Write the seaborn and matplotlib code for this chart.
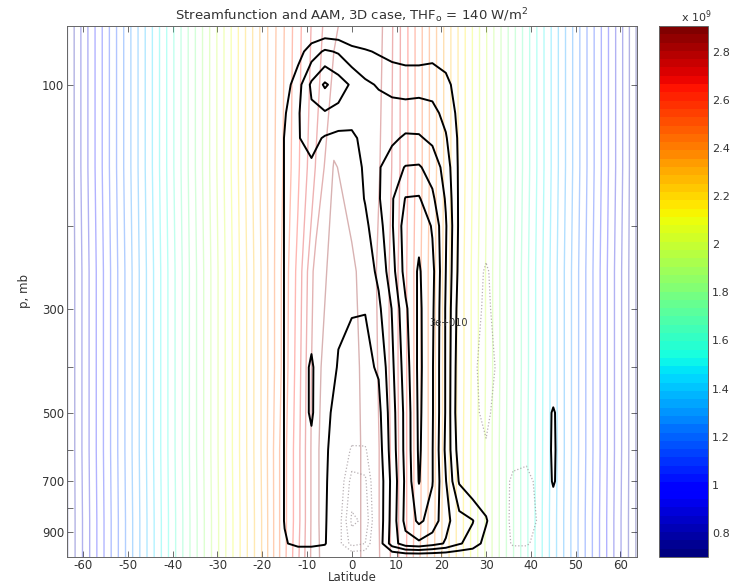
import numpy as np
import matplotlib
matplotlib.use("Agg")
import matplotlib.pyplot as plt
import seaborn as sns
from matplotlib.colors import Normalize, ListedColormap
from matplotlib.cm import ScalarMappable

sns.set_style("ticks")
plt.rcParams['font.family'] = ['DejaVu Sans']

# ---- absolute angular momentum (units of 1e9 m^2/s) ----
aam_lat = [-64, -60, -56, -52, -48, -44, -40, -36, -32, -28, -24, -20, -16,
           -12, -8, -4, 0, 4, 8, 12, 16, 20, 24, 28, 32, 36, 40, 44, 48, 52,
           56, 60, 64]
aam_p = [75, 150, 250, 400, 600, 850, 1015]
aam = [
    [0.70, 0.86, 1.01, 1.16, 1.31, 1.46, 1.61, 1.76, 1.91, 2.06, 2.21, 2.36, 2.49,
     2.62, 2.73, 2.81, 2.85, 2.87, 2.80, 2.66, 2.51, 2.36, 2.21, 2.06, 1.91, 1.76,
     1.61, 1.46, 1.31, 1.16, 1.01, 0.86, 0.70],
    [0.70, 0.86, 1.01, 1.16, 1.31, 1.46, 1.61, 1.76, 1.91, 2.06, 2.21, 2.36, 2.50,
     2.63, 2.765, 2.885, 2.86, 2.86, 2.79, 2.66, 2.51, 2.36, 2.21, 2.06, 1.91, 1.76,
     1.61, 1.46, 1.31, 1.16, 1.01, 0.86, 0.70],
    [0.70, 0.85, 1.00, 1.15, 1.30, 1.45, 1.60, 1.75, 1.90, 2.05, 2.20, 2.35, 2.51,
     2.66, 2.85, 2.90, 2.89, 2.85, 2.77, 2.65, 2.50, 2.35, 2.20, 2.05, 1.90, 1.75,
     1.60, 1.45, 1.30, 1.15, 1.00, 0.85, 0.70],
    [0.70, 0.85, 1.00, 1.15, 1.30, 1.45, 1.60, 1.75, 1.90, 2.05, 2.20, 2.35, 2.51,
     2.67, 2.87, 2.905, 2.895, 2.86, 2.77, 2.65, 2.50, 2.35, 2.20, 2.05, 1.90, 1.75,
     1.60, 1.45, 1.30, 1.15, 1.00, 0.85, 0.70],
    [0.70, 0.85, 1.00, 1.15, 1.30, 1.45, 1.60, 1.75, 1.90, 2.05, 2.20, 2.35, 2.525,
     2.68, 2.875, 2.905, 2.895, 2.865, 2.78, 2.65, 2.50, 2.35, 2.195, 2.045, 1.895,
     1.745, 1.595, 1.45, 1.30, 1.15, 1.00, 0.85, 0.70],
    [0.70, 0.845, 0.995, 1.145, 1.295, 1.445, 1.595, 1.745, 1.895, 2.045, 2.195,
     2.345, 2.525, 2.68, 2.875, 2.905, 2.895, 2.865, 2.78, 2.65, 2.50, 2.345, 2.195,
     2.045, 1.895, 1.745, 1.595, 1.445, 1.295, 1.145, 0.995, 0.845, 0.70],
    [0.70, 0.845, 0.995, 1.145, 1.295, 1.445, 1.595, 1.745, 1.895, 2.045, 2.195,
     2.345, 2.525, 2.69, 2.875, 2.90, 2.89, 2.87, 2.78, 2.65, 2.49, 2.345, 2.195,
     2.045, 1.895, 1.745, 1.595, 1.445, 1.295, 1.145, 0.995, 0.845, 0.70],
]
aam_levels = np.arange(0.72, 2.90, 0.06)
aam_range = (0.70, 2.906)

# ---- mass streamfunction (units of 1e10 kg/s) ----
psi_lat = [-18, -15, -12, -9, -6, -3, 0, 3, 6, 9, 12, 15, 18, 21, 24, 27, 30,
           33, 36, 39, 42, 45, 48]
psi_p = [75, 85, 100, 115, 130, 150, 175, 200, 250, 300, 400, 500, 600, 700,
         850, 950, 1015]
psi = [
    [0, 0, 0, 0, 0, 0, 0, 0, 0, 0, 0, 0, 0, 0, 0, 0, 0, 0, 0, 0, 0, 0, 0],
    [0, 0, 0.6, 1.5, 2.15, 1.9, 1.3, 1.1, 0.9, 0.7, 0.6, 0.6, 0.7, 0.5, 0, 0, 0, 0, 0, 0, 0, 0, 0],
    [0, 0.5, 1.6, 3.2, 4.15, 3.5, 2.85, 2.2, 1.9, 1.7, 1.6, 1.6, 1.6, 1.3, 0.5, 0, 0, 0, 0, 0, 0, 0, 0],
    [0, 0.9, 1.9, 2.8, 2.9, 2.7, 2.4, 2.4, 2.5, 2.4, 2.4, 2.5, 2.3, 1.7, 0.7, 0, 0, 0, 0, 0, 0, 0, 0],
    [0, 1.05, 1.95, 2.3, 1.9, 1.7, 1.8, 2.3, 2.5, 2.8, 3.15, 3.1, 2.8, 2.1, 0.8, 0, 0, 0, 0, 0, 0, 0, 0],
    [0, 1.05, 1.7, 1.85, 1.6, 1.5, 1.7, 2.1, 2.9, 3.6, 4.05, 4.1, 3.6, 2.6, 0.8, 0, 0, 0, 0, 0, 0, 0, 0],
    [0, 1.05, 1.6, 1.7, 1.5, 1.4, 1.5, 2.05, 2.9, 3.9, 5.05, 5.1, 4.2, 2.9, 0.8, 0, 0, 0, 0, 0, 0, 0, 0],
    [0, 1.05, 1.5, 1.6, 1.4, 1.3, 1.4, 1.8, 2.6, 3.9, 5.5, 5.8, 4.9, 3.1, 0.8, -0.1, -0.3, -0.1, 0, 0, 0, 0, 0],
    [0, 1.05, 1.5, 1.6, 1.3, 1.2, 1.2, 1.5, 2.2, 3.6, 5.4, 6.1, 5.3, 3.0, 0.7, -0.3, -0.55, -0.3, 0, 0, 0, 0, 0],
    [0, 1.05, 1.55, 1.7, 1.25, 1.1, 1.05, 1.02, 1.8, 3.05, 4.8, 6.2, 5.2, 2.9, 0.5, -0.3, -0.6, -0.3, 0, 0, 0, 0, 0],
    [0, 1.05, 1.6, 2.1, 1.4, 0.95, 0.7, 0.8, 1.1, 2.8, 4.5, 6.25, 5.1, 2.9, 0.3, -0.4, -0.7, -0.4, 0, 0, 0, 0, 0],
    [0, 1.05, 1.6, 2.1, 1.3, 0.6, 0.2, 0.3, 0.7, 2.6, 4.3, 6.2, 5.1, 2.9, 0.2, -0.4, -0.6, -0.3, 0, 0, 0, 1.15, 0],
    [0, 1.05, 1.55, 1.8, 1.25, 0.2, -0.6, -0.6, 0.5, 2.5, 4.3, 6.15, 5.05, 2.8, 0.5, 0, -0.45, -0.2, -0.3, -0.3, 0, 1.2, 0],
    [0, 1.05, 1.5, 1.6, 1.2, 0.0, -1.2, -1.1, 0.3, 2.3, 4.2, 6.05, 5.05, 3.05, 0.9, 0.2, 0.3, -0.2, -0.6, -0.7, -0.3, 1.15, 0],
    [0, 1.05, 1.5, 1.5, 1.15, -0.2, -1.6, -1.4, 0.3, 2.4, 4.3, 5.2, 4.6, 3.3, 2.4, 2.05, 1.1, 0, -0.7, -0.8, -0.4, 0, 0],
    [0, 0.9, 1.3, 1.3, 1.1, -0.3, -1.2, -1.0, 0.4, 2.5, 3.6, 3.8, 3.4, 2.9, 2.1, 1.6, 0.6, 0, -0.6, -0.6, -0.2, 0, 0],
    [0, 0, 0, 0, 0, 0, 0, 0, 0, 0, 0, 0, 0, 0, 0, 0, 0, 0, 0, 0, 0, 0, 0],
]
psi_pos_levels = [1, 2, 3, 4, 5, 6]
psi_neg_levels = [-1.5, -1.0, -0.5]

x_ticks = [-60, -50, -40, -30, -20, -10, 0, 10, 20, 30, 40, 50, 60]
p_ticks = [100, 200, 300, 400, 500, 600, 700, 800, 900]
p_labels = ["100", "", "300", "", "500", "", "700", "", "900"]
cbar_ticks = [0.8, 1.0, 1.2, 1.4, 1.6, 1.8, 2.0, 2.2, 2.4, 2.6, 2.8]
cbar_labels = ["0.8", "1", "1.2", "1.4", "1.6", "1.8", "2", "2.2", "2.4", "2.6", "2.8"]

jet64 = ListedColormap(plt.get_cmap("jet")(np.linspace(0, 1, 64)))
norm = Normalize(*aam_range)
txt = "#333333"

fig = plt.figure(figsize=(7.53, 5.85), dpi=100)
ax_box = [67 / 753, 1 - 557 / 585, 570 / 753, 531 / 585]
ax = fig.add_axes(ax_box)

# AAM contours, pale jet colours
ax.contour(aam_lat, aam_p, np.array(aam), levels=aam_levels, cmap=jet64,
           norm=norm, linewidths=1.0, alpha=0.3, linestyles="solid", zorder=1)

# streamfunction: positive solid black, negative dotted grey
ax.contour(psi_lat, psi_p, np.array(psi), levels=psi_pos_levels, colors="black",
           linewidths=1.4, linestyles="solid", zorder=3)
ax.contour(psi_lat, psi_p, np.array(psi), levels=psi_neg_levels, colors="#9a8f94",
           linewidths=0.9, linestyles=[(0, (1, 1.6))], alpha=0.7, zorder=2)

ax.text(21.6, 322, "3e+010", fontsize=7, ha="center", va="center", color=txt,
        zorder=4)

ax.set_yscale("log")
ax.set_ylim(1015, 75)
ax.set_xlim(-63.6, 63.7)
ax.set_yticks(p_ticks)
ax.set_yticklabels(p_labels)
ax.yaxis.set_minor_locator(matplotlib.ticker.NullLocator())
ax.set_xticks(x_ticks)
ax.set_xticklabels([str(v) for v in x_ticks])
ax.tick_params(axis="both", which="both", direction="in", top=True, right=True,
               length=4, width=0.6, color="#555555", labelsize=8.5, pad=2,
               labelcolor=txt)
ax.tick_params(axis="x", pad=1.5)
for s in ax.spines.values():
    s.set_color("#666666")
    s.set_linewidth(0.7)

ax.set_xlabel("Latitude", fontsize=8.5, labelpad=-1, color=txt)
ax.set_ylabel("p, mb", fontsize=8.5, labelpad=8, color=txt)
ax.set_title(r"Streamfunction and AAM, 3D case, THF$_{\rm o}$ = 140 W/m$^2$",
             fontsize=9.5, pad=4, color=txt)

# colour bar
cax = fig.add_axes([659 / 753, ax_box[1], 49 / 753, ax_box[3]])
sm = ScalarMappable(norm=norm, cmap=jet64)
cb = fig.colorbar(sm, cax=cax)
cb.set_ticks(cbar_ticks)
cb.set_ticklabels(cbar_labels)
cb.outline.set_edgecolor("#666666")
cb.outline.set_linewidth(0.7)
cax.tick_params(direction="in", left=True, right=True, length=4, width=0.6,
                color="#555555", labelsize=8, pad=3, labelcolor=txt)
cax.yaxis.set_minor_locator(matplotlib.ticker.NullLocator())
fig.text(712 / 753, 1 - 17 / 585, r"x 10$^9$", fontsize=8, ha="right",
         va="center", color=txt)

fig.savefig("out.png", dpi=100)
